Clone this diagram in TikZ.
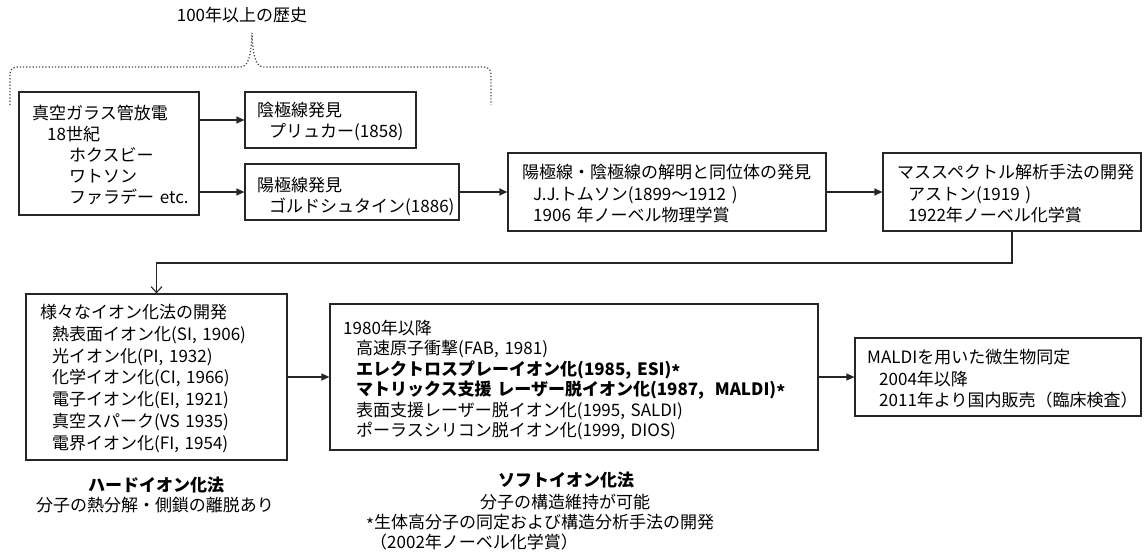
\documentclass[tikz,border=0pt]{standalone}
\usepackage{fontspec}
\setmainfont{Noto Sans CJK JP}
\usetikzlibrary{arrows.meta}
\newcommand{\myast}{\raisebox{-3pt}{*}}
\begin{document}
\begin{tikzpicture}[x=1pt,y=-1pt,
  box/.style={draw=black!85, line width=1.2pt, inner sep=0pt, rectangle},
  txt/.style={anchor=base west, inner sep=0pt, align=left, text width=700pt, font=\fontsize{17}{21}\selectfont},
  lbl/.style={inner sep=0pt, font=\fontsize{17}{21}\selectfont},
  arr/.style={-{Triangle[length=8pt,width=7pt]}, line width=1.2pt, draw=black!85},
  openarr/.style={-{Straight Barb[length=6pt,width=11pt]}, line width=1.1pt, draw=black!85},
  brace/.style={dotted, line width=1.2pt, draw=black!75}]
\useasboundingbox (0,0) rectangle (1144,554);

% boxes
\node[box, minimum width=180pt, minimum height=123pt] (A) at (109,153.5) {};
\node[box, minimum width=171pt, minimum height=56pt] (B) at (330.5,120) {};
\node[box, minimum width=214pt, minimum height=56pt] (C) at (352,192) {};
\node[box, minimum width=318pt, minimum height=78pt] (D) at (667,192) {};
\node[box, minimum width=258pt, minimum height=78pt] (E) at (1012,192) {};
\node[box, minimum width=261pt, minimum height=166pt] (F) at (156.5,377) {};
\node[box, minimum width=488pt, minimum height=146pt] (G) at (574,377) {};
\node[box, minimum width=286pt, minimum height=78pt] (H) at (998,377) {};

% texts
\node[txt] (tA) at (32,119.5) {真空ガラス管放電\\\hspace*{15pt}18世紀\\\hspace*{37pt}ホクスビー\\\hspace*{37pt}ワトソン\\\hspace*{37pt}ファラデー etc.};
\node[txt] (tB) at (257,116.5) {陰極線発見\\\hspace*{12pt}プリュカー(1858)};
\node[txt] (tC) at (257,191.5) {陽極線発見\\\hspace*{12pt}ゴルドシュタイン(1886)};
\node[txt, font=\fontsize{17}{21.5}\selectfont] (tD) at (522,178.5) {陽極線・陰極線の解明と同位体の発見\\\hspace*{11pt}J.J.トムソン(1899～1912 )\\\hspace*{11pt}1906 年ノーベル物理学賞};
\node[txt, font=\fontsize{17}{21.5}\selectfont] (tE) at (897,178.5) {マススペクトル解析手法の開発\\\hspace*{11pt}アストン(1919 )\\\hspace*{11pt}1922年ノーベル化学賞};
\node[txt, font=\fontsize{17}{21.8}\selectfont] (tF) at (40,318.5) {様々なイオン化法の開発\\\hspace*{12pt}熱表面イオン化(SI, 1906)\\\hspace*{12pt}光イオン化(PI, 1932)\\\hspace*{12pt}化学イオン化(CI, 1966)\\\hspace*{12pt}電子イオン化(EI, 1921)\\\hspace*{12pt}真空スパーク(VS 1935)\\\hspace*{12pt}電界イオン化(FI, 1954)};
\node[txt, font=\fontsize{17}{20.4}\selectfont] (tG) at (343,334.5) {1980年以降\\\hspace*{13pt}高速原子衝撃(FAB, 1981)\\\hspace*{13pt}\textbf{エレクトロスプレーイオン化(1985, ESI)\myast}\\\hspace*{13pt}\textbf{マトリックス支援 レーザー脱イオン化(1987,\hspace{5pt} MALDI)\myast}\\\hspace*{13pt}表面支援レーザー脱イオン化(1995, SALDI)\\\hspace*{13pt}ポーラスシリコン脱イオン化(1999, DIOS)};
\node[txt, font=\fontsize{17}{21.5}\selectfont] (tH) at (867,363.5) {MALDIを用いた微生物同定\\\hspace*{12pt}2004年以降\\\hspace*{12pt}2011年より国内販売（臨床検査）};

% labels
\node[lbl, anchor=base] (title) at (242,21.5) {100年以上の歴史};
\node[lbl, anchor=base, font=\fontsize{17}{21}\selectfont\bfseries] (hard) at (156,491.5) {ハードイオン化法};
\node[lbl, anchor=base] (hard2) at (155,511.5) {分子の熱分解・側鎖の離脱あり};
\node[lbl, anchor=base, font=\fontsize{17}{21}\selectfont\bfseries] (soft) at (566,486.5) {ソフトイオン化法};
\node[lbl, anchor=base] (soft2) at (565,508.5) {分子の構造維持が可能};
\node[lbl, anchor=base west] (soft3) at (366,528.5) {\myast 生体高分子の同定および構造分析手法の開発};
\node[lbl, anchor=base west] (soft4) at (370,548.5) {（2002年ノーベル化学賞）};

% brace
\draw[brace] (10,105) -- (10,76) .. controls (10,69) and (12,67) .. (19,67) -- (240,67) .. controls (248,67) and (251,58) .. (252,33) .. controls (253,58) and (256,67) .. (264,67) -- (482,67) .. controls (489,67) and (491,69) .. (491,76) -- (491,105);

% connectors
\draw[arr] (B.west -| A.east) -- (B.west);
\draw[arr] (C.west -| A.east) -- (C.west);
\draw[arr] (C.east) -- (D.west);
\draw[arr] (D.east) -- (E.west);
\coordinate (turn) at (1012,263);
\draw[openarr] (E.south) -- (turn) -| (F.north);
\draw[arr] (F.east) -- (G.west);
\draw[arr] (G.east) -- (H.west);
\end{tikzpicture}
\end{document}
